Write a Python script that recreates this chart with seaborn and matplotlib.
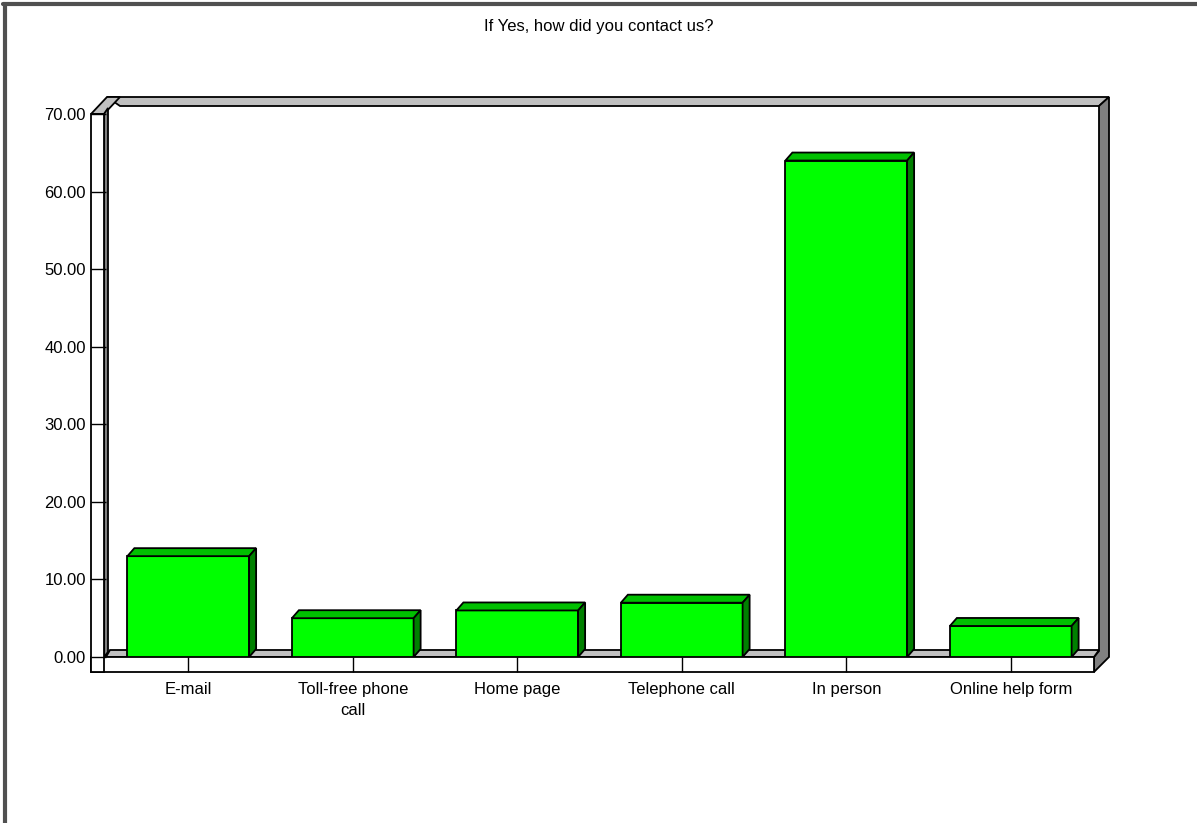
import matplotlib
matplotlib.use("Agg")
import matplotlib.pyplot as plt
from matplotlib.patches import Polygon
import seaborn as sns

categories = ["E-mail", "Toll-free phone\ncall", "Home page", "Telephone call", "In person", "Online help form"]
values = [13, 5, 6, 7, 64, 4]
y_ticks = [0, 10, 20, 30, 40, 50, 60, 70]
y_labels = [f"{v:.2f}" for v in y_ticks]
title = "If Yes, how did you contact us?"

W, H = 1197, 823
FRONT = "#00ff00"
TOP = "#00c000"
SIDE = "#008000"
LIGHT = "#c0c0c0"
DARK = "#808080"

sns.set_style("white")
plt.rcParams["font.family"] = ["Liberation Sans", "DejaVu Sans"]
plt.rcParams["text.color"] = "black"
plt.rcParams["xtick.color"] = "black"
plt.rcParams["ytick.color"] = "black"

fig = plt.figure(figsize=(W / 100, H / 100), dpi=100)
fig.patch.set_facecolor("white")

# plot area: left of floor front face to its right end, y=0 .. y=70
ax = fig.add_axes([106 / W, (H - 657) / H, 987 / W, 543 / H])
ax.set_facecolor("none")


def px(x, y):
    return (x / W, 1 - y / H)


def frame_poly(pts, color, z=0.5):
    poly = Polygon([px(*p) for p in pts], closed=True, facecolor=color,
                   edgecolor="black", linewidth=1.3, transform=fig.transFigure,
                   clip_on=False, zorder=z)
    ax.add_artist(poly)


# back wall top strip and right wall
frame_poly([(107, 97), (1109, 97), (1099, 106), (120, 106)], LIGHT)
frame_poly([(1099, 106), (1109, 97), (1109, 657), (1094, 672), (1094, 657), (1099, 651)], DARK)
# floor top and front
frame_poly([(106, 657), (1094, 657), (1099, 650), (110, 650)], LIGHT)
frame_poly([(91, 657), (1094, 657), (1094, 672), (91, 672)], "white")
# left wall: top, side, front
frame_poly([(91, 114), (104, 114), (120, 97), (107, 97)], LIGHT)
frame_poly([(104, 114), (104, 657), (108, 652), (108, 108)], DARK)
frame_poly([(91, 114), (104, 114), (104, 672), (91, 672)], "white")

sns.barplot(x=categories, y=values, color=FRONT, width=0.74, saturation=1,
            edgecolor="black", linewidth=1.3, ax=ax, zorder=3)

ax.set_xlim(-0.5, len(categories) - 0.5)
ax.set_ylim(0, 70)

# pseudo 3D faces on each bar, offset 7px right and 8px up
dx = 7 / (987 / len(categories))
dy = 8 / (543 / 70)
for bar in ax.containers[0]:
    x0 = bar.get_x()
    x1 = x0 + bar.get_width()
    h = bar.get_height()
    ax.add_patch(Polygon([(x0, h), (x1, h), (x1 + dx, h + dy), (x0 + dx, h + dy)],
                         closed=True, facecolor=TOP, edgecolor="black", linewidth=1.3, zorder=3))
    ax.add_patch(Polygon([(x1, 0), (x1, h), (x1 + dx, h + dy), (x1 + dx, dy)],
                         closed=True, facecolor=SIDE, edgecolor="black", linewidth=1.3, zorder=3))

ax.set_xlim(-0.5, len(categories) - 0.5)
ax.set_ylim(0, 70)
ax.set_yticks(y_ticks)
ax.set_yticklabels(y_labels)
ax.set_xlabel("")
ax.set_ylabel("")
for s in ax.spines.values():
    s.set_visible(False)

ax.tick_params(axis="y", length=10.8, width=1, direction="out", pad=3.6,
               labelsize=12, color="black", labelcolor="black", left=True)
ax.tick_params(axis="x", length=10.8, width=1, direction="out", pad=7,
               labelsize=12, color="black", labelcolor="black", bottom=True)
for lbl in ax.get_xticklabels():
    lbl.set_linespacing(1.5)

fig.text(0.5, 1 - 27 / H, title, ha="center", va="center", fontsize=12, color="black")

# outer window border (top and left)
fig.add_artist(plt.Line2D([3 / W, 1], [1 - 4 / H, 1 - 4 / H], color="#505050", linewidth=3,
                          transform=fig.transFigure))
fig.add_artist(plt.Line2D([5 / W, 5 / W], [0, 1 - 4 / H], color="#505050", linewidth=3,
                          transform=fig.transFigure))

fig.savefig("out.png", dpi=100, facecolor="white")
